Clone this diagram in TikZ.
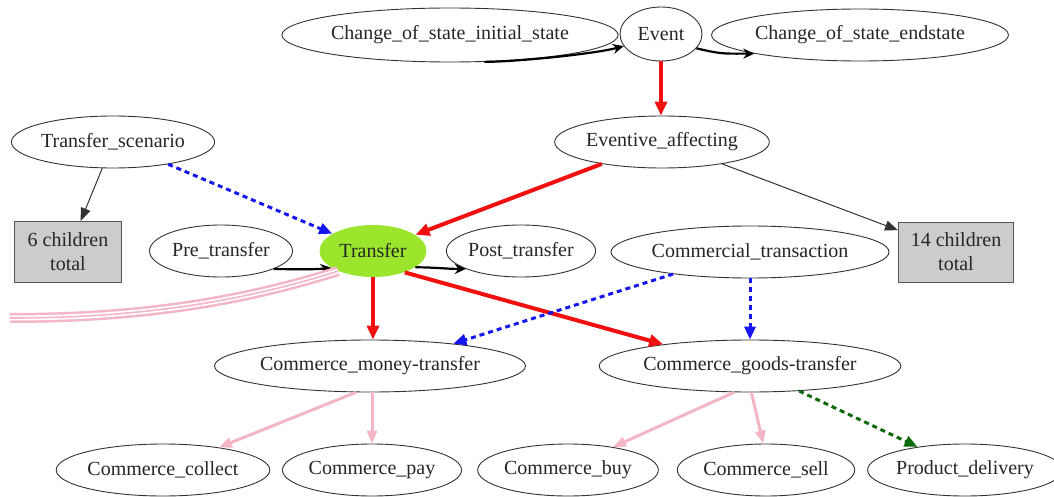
\documentclass[tikz,border=0pt]{standalone}
\usepackage{fontspec}
\setmainfont{Liberation Serif}
\newfontfamily\labelserif{Liberation Serif}
\usetikzlibrary{arrows.meta,shapes.geometric}
\definecolor{edgegray}{HTML}{333333}
\definecolor{boxfill}{HTML}{CCCCCC}
\definecolor{boxline}{HTML}{555555}
\definecolor{hubgreen}{HTML}{9BE62D}
\definecolor{redline}{HTML}{F01010}
\definecolor{blueline}{HTML}{1515F0}
\definecolor{pinkline}{HTML}{F4B6C6}
\definecolor{greenline}{HTML}{0B6B0B}
\tikzset{
  frame/.style={ellipse, draw=edgegray, line width=0.9pt, inner sep=0pt, minimum height=52,
    text=black!85, font=\labelserif\fontsize{20}{23}\selectfont},
  countbox/.style={rectangle, draw=boxline, fill=boxfill, line width=1pt, inner sep=0pt,
    align=center, text=black!85, font=\labelserif\fontsize{20}{24}\selectfont},
  hub/.style={frame, fill=hubgreen, draw=none},
  inherits/.style={draw=redline, line width=4pt, -{Triangle[length=14pt,width=12pt]}},
  uses/.style={draw=blueline, line width=3pt, dash pattern=on 5pt off 4pt,
    -{Triangle[length=13pt,width=11pt]}},
  precedes/.style={draw=black, line width=2.2pt, -{Stealth[open,length=11pt,width=10pt]}},
  childlink/.style={draw=edgegray, line width=1pt, -{Triangle[length=13pt,width=10pt]}},
  perspective/.style={draw=pinkline, line width=3pt, -{Triangle[length=13pt,width=10pt]}},
  seealso/.style={draw=greenline, line width=3pt, dash pattern=on 5pt off 4pt,
    -{Triangle[length=13pt,width=11pt]}},
}
\begin{document}
\begin{tikzpicture}[x=1pt,y=-1pt]
\useasboundingbox (0,0) rectangle (1054,497);
\fill[white] (0,0) rectangle (1054,497);

% top row
\node[frame, minimum width=286, minimum height=54] (init) at (450,35) {Change\_of\_state\_initial\_state};
\node[frame, minimum width=82, minimum height=54] (event) at (661,34) {Event};
\node[frame, minimum width=255] (endst) at (860,35) {Change\_of\_state\_endstate};

% second row
\node[frame, minimum width=185] (ts) at (113,142) {Transfer\_scenario};
\node[frame, minimum width=195] (eva) at (662,142) {Eventive\_affecting};

% middle row
\node[countbox, minimum width=107, minimum height=61] (b6) at (68,252) {6 children\\total};
\node[frame, minimum width=143] (pre) at (221,251) {Pre\_transfer};
\node[hub, minimum width=107] (transfer) at (373,251) {Transfer};
\node[frame, minimum width=137] (post) at (521,251) {Post\_transfer};
\node[frame, minimum width=244] (ct) at (750,252) {Commercial\_transaction};
\node[countbox, minimum width=115, minimum height=60] (b14) at (956,252) {14 children\\total};

% fourth row
\node[frame, minimum width=256] (money) at (370,366) {Commerce\_money-transfer};
\node[frame, minimum width=259] (goods) at (750,366) {Commerce\_goods-transfer};

% bottom row
\node[frame, minimum width=194] (collect) at (163,470) {Commerce\_collect};
\node[frame, minimum width=169] (pay) at (372,470) {Commerce\_pay};
\node[frame, minimum width=170] (buy) at (568,470) {Commerce\_buy};
\node[frame, minimum width=167] (sell) at (766,470) {Commerce\_sell};
\node[frame, minimum width=170] (pd) at (965,470) {Product\_delivery};

% ordering links
\draw[precedes] (init.-38) .. controls +(30,0) and +(-30,8) .. (event.198);
\draw[precedes] (event.-22) .. controls +(25,6) and +(-30,0) .. (endst.190);
\draw[precedes] (pre.-19) .. controls +(20,0) and +(-20,2) .. (transfer.202);
\draw[precedes] (transfer.-21) .. controls +(20,0) and +(-20,0) .. (post.198);

% inheritance
\draw[inherits] (event.south) -- (event.south |- eva.north);
\draw[inherits] (eva.200) -- (transfer.21);
\draw[inherits] (transfer.south) -- (transfer.south |- money.north);
\draw[inherits] (transfer.-34) -- (goods.166);

% child counts
\draw[childlink] (ts) -- (b6);
\draw[childlink] (eva.-20) -- (b14);

% uses
\draw[uses] (ts.-22) -- (transfer.157);
\draw[uses] (ct.196) -- (money.15);
\draw[uses] (ct.south) -- (ct.south |- goods.north);

% perspectives: a triple line leaving the picture on the left
\coordinate (pinkstart) at (10,318);
\draw[pinkline, line width=10pt] (pinkstart) .. controls +(150,0) and +(-80,25) .. (transfer.210);
\draw[white, line width=5pt] (pinkstart) .. controls +(150,0) and +(-80,25) .. (transfer.210);
\draw[pinkline, line width=1.6pt] (pinkstart) .. controls +(150,0) and +(-80,25) .. (transfer.210);

\draw[perspective] (money.242) -- (collect.22);
\draw[perspective] (pay.north |- money.south) -- (pay.north);
\draw[perspective] (goods.239) -- (buy.27);
\draw[perspective] (goods.-87) -- (sell.96);

% see also
\draw[seealso] (goods.-27) -- (pd.154);
\end{tikzpicture}
\end{document}
